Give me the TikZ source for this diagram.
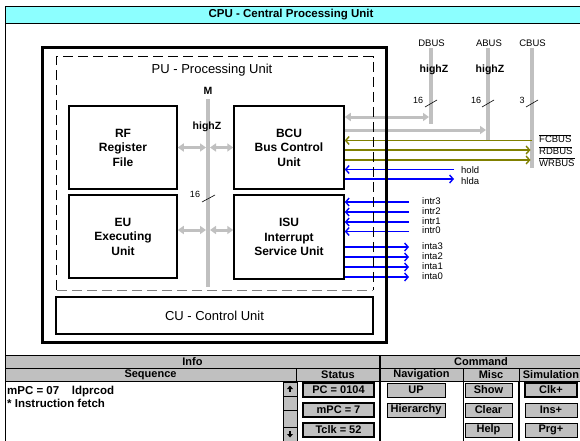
\documentclass[tikz,border=0pt]{standalone}
\usepackage{fontspec}
\setmainfont{Liberation Sans}
\usetikzlibrary{arrows.meta,calc}
\definecolor{wgray}{RGB}{192,192,192}
\definecolor{dgray}{RGB}{128,128,128}
\definecolor{wolive}{RGB}{128,128,0}
\definecolor{wblue}{RGB}{0,0,255}
\definecolor{wcyan}{RGB}{140,255,255}
\tikzset{
  unitbox/.style={draw=black, line width=1.5pt, fill=white, align=center, inner sep=0pt, font=\fontsize{12}{14.5}\selectfont\bfseries},
  bus/.style={draw=wgray, line width=4pt},
  garrow/.style={draw=wgray, line width=3pt, -{Triangle[length=6pt,width=8pt]}},
  gbiarrow/.style={draw=wgray, line width=3pt, {Triangle[length=6pt,width=8pt]}-{Triangle[length=6pt,width=8pt]}},
  oarrow/.style={draw=wolive, line width=1.4pt, -{Straight Barb[length=3.5pt,width=8pt]}},
  barrow/.style={draw=wblue, line width=1.4pt, -{Straight Barb[length=3.5pt,width=8pt]}},
  sig/.style={font=\fontsize{9.5}{10}\selectfont, inner sep=0pt, anchor=west},
  buslabel/.style={font=\fontsize{9.5}{10}\selectfont, inner sep=0pt},
  smalllabel/.style={font=\fontsize{9}{10}\selectfont, inner sep=0pt},
  hz/.style={font=\fontsize{10.5}{11}\selectfont\bfseries, inner sep=0pt},
  tick/.style={draw=black, line width=0.6pt},
  pudash/.style={draw=black, line width=1.3pt, dash pattern=on 10pt off 5pt},
  hdr/.style={draw=black, fill=wgray, line width=0.8pt, inner sep=0pt, minimum height=13pt, font=\fontsize{11}{12}\selectfont\bfseries},
  btn/.style={draw=black, fill=wgray, line width=1pt, inner sep=0pt, minimum height=14pt, font=\fontsize{11}{12}\selectfont\bfseries},
  sbtn/.style={draw=black, fill=wgray, line width=0.6pt, inner sep=0pt, minimum width=14pt},
}
\begin{document}
\begin{tikzpicture}[x=1pt,y=-1pt]
\useasboundingbox (0,0) rectangle (580,441);
\fill[white] (0,0) rectangle (580,441);
% window frame and title bar
\fill[wcyan] (5,7) rectangle (580,23);
\draw[line width=0.8pt] (5,6.5) -- (580,6.5);
\draw[line width=0.8pt] (5,23) -- (580,23);
\draw[line width=1pt] (5,6.5) -- (5,441);
\node[font=\fontsize{11.5}{12}\selectfont\bfseries, inner sep=0pt] (title) at (291,15) {CPU - Central Processing Unit};

% frames (positions)
\node[minimum width=343pt, minimum height=294pt, inner sep=0pt] (CPU) at (214.5,195) {};
\node[minimum width=316pt, minimum height=233pt, inner sep=0pt] (PU) at (215,173.5) {};
\node[font=\fontsize{13}{15}\selectfont, inner sep=0pt] (PUl) at (212,70) {PU - Processing Unit};

% units
\node[unitbox, minimum width=108pt, minimum height=83pt] (RF) at (123,147.5) {RF\\Register\\File};
\node[unitbox, minimum width=110pt, minimum height=83pt] (BCU) at (289,147.5) {BCU\\Bus Control\\Unit};
\node[unitbox, minimum width=108pt, minimum height=83pt] (EU) at (123,236.5) {EU\\Executing\\Unit};
\node[unitbox, minimum width=110pt, minimum height=84pt] (ISU) at (289,237) {ISU\\Interrupt\\Service Unit};
\node[unitbox, font=\fontsize{13}{15}\selectfont, minimum width=317pt, minimum height=37pt] (CU) at (214.5,315.5) {CU - Control Unit};

% internal M bus
\coordinate (Mtop) at (208,99);
\coordinate (Mbot) at (208,287);
\draw[bus] (Mtop) -- (Mbot);
\coordinate (mR) at (208,147.5);
\coordinate (mE) at (208,230);
\draw[gbiarrow, shorten >=2pt] (RF.east) -- (mR);
\draw[gbiarrow, shorten <=2pt] (mR) -- (BCU.west);
\draw[gbiarrow, shorten >=2pt] (EU.east |- mE) -- (mE);
\draw[gbiarrow, shorten <=2pt] (mE) -- (ISU.west |- mE);
\node[hz] (Mlab) at (208,91) {M};
\node[hz] (Mhz) at (207,127) {highZ};
\node[smalllabel] (M16) at (195,194) {16};
\draw[tick] (202,202) -- (215,195);

% external buses
\coordinate (Dtop) at (431,48); \coordinate (Dbot) at (431,124);
\coordinate (Atop) at (488,48); \coordinate (Abot) at (488,140);
\coordinate (Ctop) at (532,48); \coordinate (Cbot) at (532,168);
\draw[bus] (Dtop) -- (Dbot);
\draw[bus] (Atop) -- (Abot);
\draw[bus] (Ctop) -- (Cbot);
\node[buslabel] (DBUS) at (431.5,43.5) {DBUS};
\node[buslabel] (ABUS) at (489,43.5) {ABUS};
\node[buslabel] (CBUS) at (532.5,43.5) {CBUS};
\node[hz] (Dhz) at (434,70) {highZ};
\node[hz] (Ahz) at (490,70) {highZ};
\node[smalllabel] (D16) at (418,100) {16};
\node[smalllabel] (A16) at (476,100) {16};
\node[smalllabel] (C3) at (522,100) {3};
\draw[tick] (425,107) -- (437,100);
\draw[tick] (482,107) -- (494,100);
\draw[tick] (526,107) -- (538,100);

\coordinate (Dj) at (431,117);
\coordinate (Aj) at (488,130);
\draw[gbiarrow, shorten >=2pt] (BCU.east |- Dj) -- (Dj);
\draw[garrow, shorten >=2pt] (BCU.east |- Aj) -- (Aj);

% control bus signals
\coordinate (Cf) at (532,140.5);
\coordinate (Cr) at (532,150);
\coordinate (Cw) at (532,160);
\draw[oarrow] (Cf) -- (BCU.east |- Cf);
\draw[oarrow, shorten >=1.5pt] (BCU.east |- Cr) -- (Cr);
\draw[oarrow, shorten >=1.5pt] (BCU.east |- Cw) -- (Cw);
\node[sig] (lfc) at (539,138.5) {$\overline{\hbox{FCBUS}}$};
\node[sig] (lrd) at (539,150.5) {$\overline{\hbox{RDBUS}}$};
\node[sig] (lwr) at (539,162) {$\overline{\hbox{WRBUS}}$};

% hold / hlda
\coordinate (Hh) at (454,169.5);
\coordinate (Hl) at (454,179);
\draw[barrow] (Hh) -- (BCU.east |- Hh);
\draw[barrow] (BCU.east |- Hl) -- (Hl);
\node[sig] (lhold) at (461,170) {hold};
\node[sig] (lhlda) at (461,181.5) {hlda};

% interrupts
\foreach \n/\yy in {3/202,2/212,1/222,0/231.5} {
  \coordinate (intr\n) at (409,\yy);
  \draw[barrow] (intr\n) -- (ISU.east |- intr\n);
  \node[sig] (lintr\n) at (422,\yy-1) {intr\n};
}
\foreach \n/\yy in {3/247,2/257,1/267,0/277} {
  \coordinate (inta\n) at (409,\yy);
  \draw[barrow] (ISU.east |- inta\n) -- (inta\n);
  \node[sig] (linta\n) at (422,\yy-1) {inta\n};
}

% frames drawn on top
\draw[pudash] (PU.south west) -- (PU.north west) -- (PU.north east) -- (PU.south east);
\draw[pudash, draw=dgray] (PU.south west) -- (PU.south east);
\draw[line width=3pt] (CPU.north west) rectangle (CPU.south east);

% bottom panel
\draw[line width=1pt] (5,355) -- (580,355);
\node[hdr, minimum width=375pt] (info) at (192.5,362) {Info};
\node[hdr, minimum width=202pt] (cmd) at (481,362) {Command};
\node[hdr, minimum width=291pt] (seq) at (150.5,375) {Sequence};
\node[hdr, minimum width=84pt] (status) at (338,375) {Status};
\node[hdr, minimum width=83pt] (nav) at (421.5,375) {Navigation};
\node[hdr, minimum width=56pt] (misc) at (491,375) {Misc};
\node[hdr, minimum width=64pt] (sim) at (551,375) {Simulation};
\draw[line width=0.8pt] (283,381.5) -- (283,441);
\draw[line width=0.8pt] (297,381.5) -- (297,441);
\draw[line width=2pt] (380,355.5) -- (380,441);
\draw[line width=0.8pt] (463,381.5) -- (463,441);
\draw[line width=1.2pt] (519,381.5) -- (519,441);

\node[font=\fontsize{11.5}{12}\selectfont\bfseries, inner sep=0pt, anchor=west] (seq1) at (7,392) {mPC = 07\hspace{1.1em}ldprcod};
\node[font=\fontsize{11.5}{12}\selectfont\bfseries, inner sep=0pt, anchor=west] (seq2) at (7,403) {* Instruction fetch};

% scrollbar
\node[sbtn, minimum height=14pt] (sup) at (290,389) {};
\node[sbtn, minimum height=14pt] (sthumb) at (290,403) {};
\node[sbtn, minimum height=17pt] (strack) at (290,418.5) {};
\node[sbtn, minimum height=14pt] (sdown) at (290,434) {};
\fill (290,385.5) -- (293,389) -- (287,389) -- cycle;
\fill (289.3,389) rectangle (290.7,392);
\fill (290,437.5) -- (293,434) -- (287,434) -- cycle;
\fill (289.3,431) rectangle (290.7,434);

% buttons
\node[btn, line width=1.8pt, minimum width=71pt] (pc) at (338.5,390) {PC = 0104};
\node[btn, line width=1.8pt, minimum width=71pt] (mpc) at (338.5,410) {mPC = 7};
\node[btn, line width=1.8pt, minimum width=71pt] (tclk) at (338.5,430) {Tclk = 52};
\node[btn, minimum width=58pt] (up) at (416,390) {UP};
\node[btn, minimum width=58pt] (hier) at (416,410) {Hierarchy};
\node[btn, minimum width=47pt] (show) at (488.5,390) {Show};
\node[btn, minimum width=47pt] (clear) at (488.5,410) {Clear};
\node[btn, minimum width=47pt] (help) at (488.5,430) {Help};
\node[btn, line width=1.8pt, minimum width=52pt] (clk) at (551,390) {Clk+};
\node[btn, minimum width=52pt] (ins) at (551,410) {Ins+};
\node[btn, minimum width=52pt] (prg) at (551,430) {Prg+};
\end{tikzpicture}
\end{document}
